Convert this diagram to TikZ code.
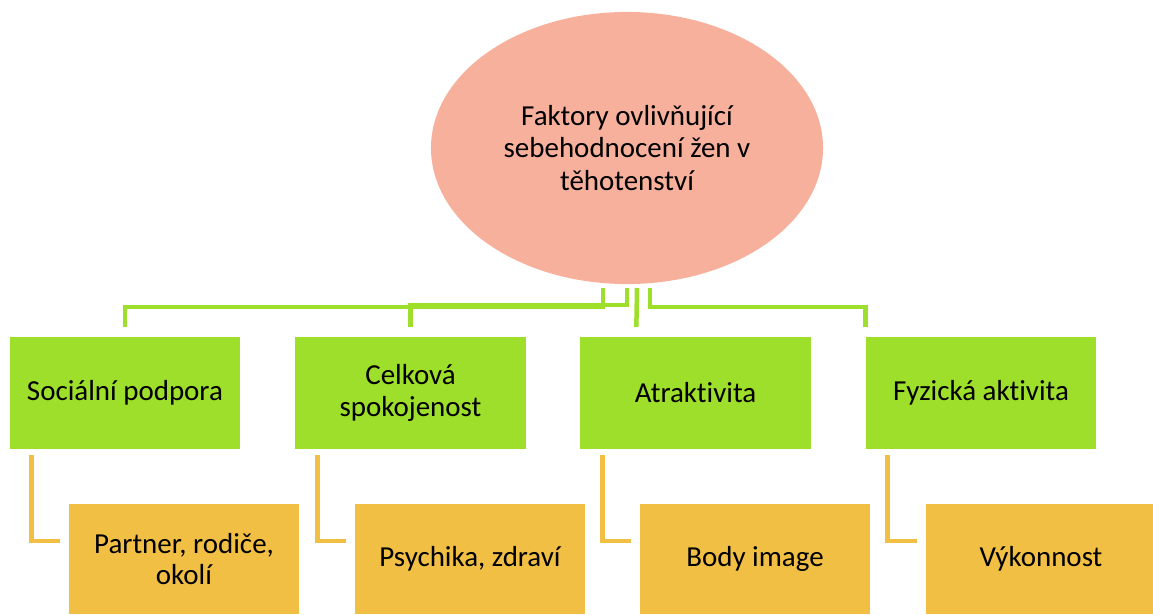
\documentclass[tikz,border=0pt]{standalone}
\usepackage{fontspec}
\setmainfont{Carlito}[Ligatures=NoCommon]
\usetikzlibrary{shapes.geometric,calc}

\definecolor{salmon}{RGB}{247,176,156}
\definecolor{leafgreen}{RGB}{157,223,43}
\definecolor{sunorange}{RGB}{242,191,69}

\tikzset{
  root/.style={ellipse, fill=salmon, minimum width=278.8pt, minimum height=193.5pt,
    inner sep=0pt, align=center, font=\fontsize{20.6}{23}\selectfont},
  factor/.style={fill=leafgreen, minimum width=163.6pt, minimum height=79.7pt,
    inner sep=2pt, align=center, font=\fontsize{20.6}{22.5}\selectfont},
  detail/.style={fill=sunorange, minimum width=163.6pt, minimum height=78.2pt,
    inner sep=2pt, align=center, font=\fontsize{20.6}{22.5}\selectfont},
  gline/.style={draw=leafgreen, line width=3.2pt},
  oline/.style={draw=sunorange, line width=3.5pt}
}

\begin{document}
\begin{tikzpicture}[x=0.025cm, y=-0.025cm]
    \useasboundingbox (0,0) rectangle (1153,614);

    % === ELIPSA (nahore) ===
    \node[root] (root) at (627,148) {Faktory ovlivňující\\sebehodnocení žen v\\těhotenství};

    % body pod elipsou, odkud jdou spojnice
    \coordinate (s1) at (603,288);
    \coordinate (s2) at (627,288);
    \coordinate (s3) at (637,288);
    \coordinate (s4) at (650,288);

    % === FAKTORY (zelene) ===
    \node[factor] (g1) at (125,393)   {Sociální podpora};
    \node[factor] (g2) at (410.5,393) {Celková\\spokojenost};
    \node[factor] (g3) at (695.5,393) {Atraktivita};
    \node[factor] (g4) at (981,393)   {Fyzická aktivita};

    % === PODROBNOSTI (oranzove) ===
    \node[detail] (o1) at (184,559)  {Partner, rodiče,\\okolí};
    \node[detail] (o2) at (470,559)  {Psychika, zdraví};
    \node[detail] (o3) at (755,559)  {Body image};
    \node[detail] (o4) at (1041,559) {Výkonnost};

    % Spojnice elipsa -> faktory
    \draw[gline, shorten >=7pt] (s1) -- ++(0,19) -| (g1.north);
    \draw[gline, shorten >=7pt] (s2) -- ++(0,17) -| (g2.north);
    \draw[gline, shorten >=7pt] (s3) -- ($(g3.north west)+(56,0)$);
    \draw[gline, shorten >=7pt] (s4) -- ++(0,19) -| (g4.north west);

    % Spojnice faktory -> podrobnosti
    \draw[oline] ($(g1.south west)+(22,6)$) |- ($(o1.west)+(-9,-18)$);
    \draw[oline] ($(g2.south west)+(22,6)$) |- ($(o2.west)+(-9,-18)$);
    \draw[oline] ($(g3.south west)+(22,6)$) |- ($(o3.west)+(-9,-18)$);
    \draw[oline] ($(g4.south west)+(22,6)$) |- ($(o4.west)+(-9,-18)$);

\end{tikzpicture}
\end{document}
